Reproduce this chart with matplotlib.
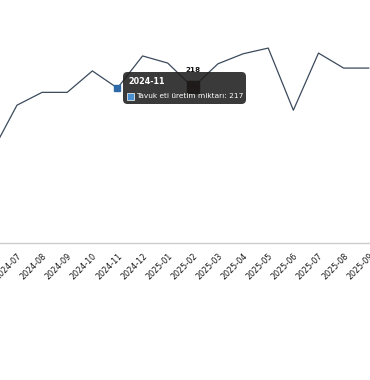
import matplotlib.pyplot as plt
from matplotlib.patches import FancyBboxPatch

months = ['2024-06', '2024-07', '2024-08', '2024-09', '2024-10', '2024-11', '2024-12',
          '2025-01', '2025-02', '2025-03', '2025-04', '2025-05', '2025-06', '2025-07',
          '2025-08', '2025-09']
values = [127, 193, 211, 211, 241, 217, 262, 252, 218, 251, 265, 273, 186, 266, 245, 245]
series_name = 'Tavuk eti üretim miktarı'
hover_idx = 5
label_idx = 8


def main():
    fig = plt.figure(figsize=(3.7, 3.8), dpi=100)
    ax = fig.add_axes([0, 0.3605, 1, 0.5637])
    x = list(range(len(months)))
    ax.plot(x, values, color='#3b4a5c', lw=0.9, zorder=2)
    ax.set_xlim(0.325, 15.05)
    ax.set_ylim(0, 300)

    for s in ['top', 'right', 'left']:
        ax.spines[s].set_visible(False)
    ax.spines['bottom'].set_color('#cccccc')
    ax.spines['bottom'].set_linewidth(1.0)
    ax.set_yticks([])
    ax.set_xticks(x[1:])
    ax.set_xticklabels(months[1:], rotation=45, ha='right', rotation_mode='anchor',
                       fontsize=5.8, color='#1a1a1a')
    ax.tick_params(axis='x', length=0, pad=6)

    # hovered point marker
    ax.plot(x[hover_idx], values[hover_idx], marker='s', ms=4.5, color='#2f6aa8',
            zorder=4, clip_on=False)
    # highlighted point + data label
    ax.plot(x[label_idx], values[label_idx], marker='s', ms=8, color='#2a0808', zorder=3)
    ax.annotate(str(values[label_idx]), (x[label_idx], values[label_idx]),
                xytext=(0, 10), textcoords='offset points', ha='center', va='bottom',
                fontsize=5.2, fontweight='bold', color='#111111', zorder=3)

    # tooltip
    box = FancyBboxPatch((123 / 370, 1 - 104 / 380), 123 / 370, 32 / 380,
                         boxstyle='round,pad=0,rounding_size=0.012',
                         transform=fig.transFigure, facecolor='#1e1e1e', alpha=0.88,
                         edgecolor='none', zorder=5)
    fig.patches.append(box)
    fig.text(128 / 370, 1 - 81 / 380, months[hover_idx], color='white', fontsize=5.8,
             fontweight='bold', va='center', ha='left', zorder=6)
    sq = FancyBboxPatch((127.5 / 370, 1 - 100 / 380), 7 / 370, 7 / 380,
                        boxstyle='square,pad=0', transform=fig.transFigure,
                        facecolor='#4a8fd0', edgecolor='white', lw=0.5, zorder=6)
    fig.patches.append(sq)
    fig.text(136.5 / 370, 1 - 96 / 380, '%s: %d' % (series_name, values[hover_idx]),
             color='white', fontsize=5.3, va='center', ha='left', zorder=6)

    fig.savefig('out.png', dpi=100)


if __name__ == "__main__":
    main()
